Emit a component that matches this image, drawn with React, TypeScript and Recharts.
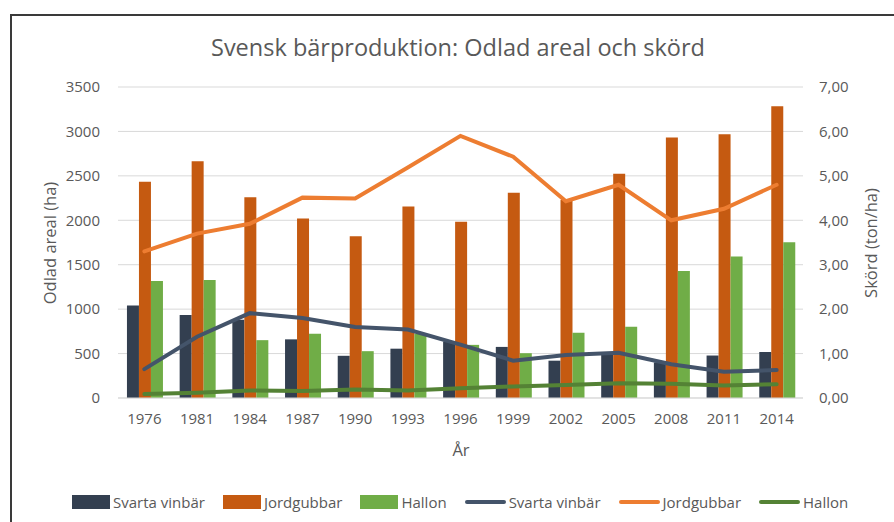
import { ComposedChart, Bar, Line, XAxis, YAxis, CartesianGrid } from "recharts";

const years = ["1976", "1981", "1984", "1987", "1990", "1993", "1996", "1999", "2002", "2005", "2008", "2011", "2014"];

// Odlad areal (ha)
const svartaArea = [1040, 935, 880, 660, 475, 555, 635, 575, 420, 490, 400, 478, 518];
const jordArea = [2435, 2665, 2258, 2021, 1821, 2156, 1983, 2311, 2228, 2525, 2932, 2969, 3282];
const hallonArea = [1317, 1329, 651, 723, 527, 720, 598, 504, 734, 802, 1430, 1592, 1754];

// Skörd (ton/ha)
const svartaYield = [0.65, 1.38, 1.91, 1.8, 1.6, 1.54, 1.2, 0.84, 0.97, 1.02, 0.76, 0.59, 0.63];
const jordYield = [3.3, 3.7, 3.92, 4.51, 4.49, 5.19, 5.9, 5.43, 4.43, 4.8, 4.0, 4.26, 4.8];
const hallonYield = [0.09, 0.12, 0.17, 0.16, 0.19, 0.17, 0.22, 0.26, 0.29, 0.33, 0.32, 0.28, 0.31];

const leftTicks = [0, 500, 1000, 1500, 2000, 2500, 3000, 3500];
const rightTicks = [0, 1, 2, 3, 4, 5, 6, 7];

const legendItems = [
  { label: "Svarta vinbär", kind: "bar", color: "#333F50" },
  { label: "Jordgubbar", kind: "bar", color: "#C55A11" },
  { label: "Hallon", kind: "bar", color: "#70AD47" },
  { label: "Svarta vinbär", kind: "line", color: "#44546A" },
  { label: "Jordgubbar", kind: "line", color: "#ED7D31" },
  { label: "Hallon", kind: "line", color: "#548235" },
];

const FONT = "'Open Sans', sans-serif";
const TEXT = "#595959";

const data = years.map((year, i) => ({
  year,
  svartaArea: svartaArea[i],
  jordArea: jordArea[i],
  hallonArea: hallonArea[i],
  svartaYield: svartaYield[i],
  jordYield: jordYield[i],
  hallonYield: hallonYield[i],
}));

const fmtComma = (v: number) => v.toFixed(2).replace(".", ",");

export default function App() {
  return (
    <div style={{ position: "absolute", left: 0, top: 0, width: 894, height: 522, overflow: "hidden", background: "#fff", fontFamily: FONT }}>
      <div
        style={{
          position: "absolute",
          left: 10,
          top: 14,
          width: 900,
          height: 520,
          borderTop: "2px solid #3a3a3a",
          borderLeft: "2px solid #3a3a3a",
        }}
      />
      <div style={{ position: "absolute", left: 0, top: 0 }}>
        <ComposedChart
          width={894}
          height={522}
          data={data}
          margin={{ top: 87, right: 0, bottom: 0, left: 0 }}
          barCategoryGap="17%"
          barGap={0}
        >
          <CartesianGrid yAxisId="left" vertical={false} stroke="#D9D9D9" strokeWidth={1} />
          <XAxis
            dataKey="year"
            height={124}
            tickLine={false}
            tickSize={0}
            tickMargin={15}
            axisLine={{ stroke: "#D9D9D9" }}
            tick={{ fontSize: 15, fill: TEXT, fontFamily: FONT }}
            interval={0}
          />
          <YAxis
            yAxisId="left"
            width={118}
            domain={[0, 3500]}
            ticks={leftTicks}
            tickLine={false}
            tickSize={0}
            tickMargin={18}
            axisLine={false}
            tick={{ fontSize: 15, fill: TEXT, fontFamily: FONT }}
          />
          <YAxis
            yAxisId="right"
            orientation="right"
            width={91}
            domain={[0, 7]}
            ticks={rightTicks}
            tickFormatter={fmtComma}
            tickLine={false}
            tickSize={0}
            tickMargin={16}
            axisLine={false}
            tick={{ fontSize: 15, fill: TEXT, fontFamily: FONT }}
          />
          <Bar yAxisId="left" dataKey="svartaArea" fill="#333F50" isAnimationActive={false} />
          <Bar yAxisId="left" dataKey="jordArea" fill="#C55A11" isAnimationActive={false} />
          <Bar yAxisId="left" dataKey="hallonArea" fill="#70AD47" isAnimationActive={false} />
          <Line yAxisId="right" type="linear" dataKey="svartaYield" stroke="#44546A" strokeWidth={4} strokeLinecap="round" dot={false} isAnimationActive={false} />
          <Line yAxisId="right" type="linear" dataKey="jordYield" stroke="#ED7D31" strokeWidth={4} strokeLinecap="round" dot={false} isAnimationActive={false} />
          <Line yAxisId="right" type="linear" dataKey="hallonYield" stroke="#548235" strokeWidth={4} strokeLinecap="round" dot={false} isAnimationActive={false} />
        </ComposedChart>
      </div>

      <div style={{ position: "absolute", left: 0, width: 916, top: 31, textAlign: "center", fontSize: 23.5, color: TEXT, lineHeight: "32px" }}>
        Svensk bärproduktion: Odlad areal och skörd
      </div>
      <div style={{ position: "absolute", left: 0, width: 922, top: 439, textAlign: "center", fontSize: 16.5, color: TEXT, lineHeight: "22px" }}>
        År
      </div>
      <div
        style={{
          position: "absolute",
          left: 49,
          top: 243,
          transform: "translate(-50%, -50%) rotate(-90deg)",
          fontSize: 16.5,
          color: TEXT,
          whiteSpace: "nowrap",
        }}
      >
        Odlad areal (ha)
      </div>
      <div
        style={{
          position: "absolute",
          left: 870,
          top: 243,
          transform: "translate(-50%, -50%) rotate(-90deg)",
          fontSize: 16.5,
          color: TEXT,
          whiteSpace: "nowrap",
        }}
      >
        Skörd (ton/ha)
      </div>

      <div style={{ position: "absolute", left: 72, top: 491, display: "flex", alignItems: "center", gap: 18, fontSize: 15, color: TEXT, lineHeight: "22px" }}>
        {legendItems.map((item, i) => (
          <div key={i} style={{ display: "flex", alignItems: "center", gap: 3 }}>
            {item.kind === "bar" ? (
              <span style={{ display: "inline-block", width: 38, height: 14, background: item.color }} />
            ) : (
              <span style={{ display: "inline-block", width: 41, height: 4, borderRadius: 2, background: item.color }} />
            )}
            <span>{item.label}</span>
          </div>
        ))}
      </div>
    </div>
  );
}
